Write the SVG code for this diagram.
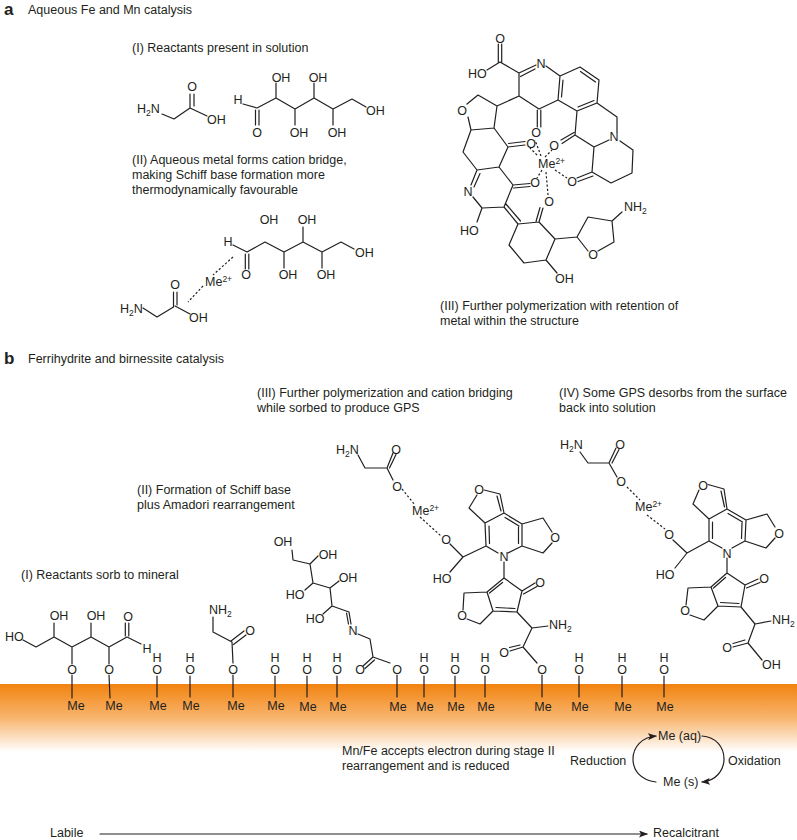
<svg xmlns="http://www.w3.org/2000/svg" width="797" height="840" viewBox="0 0 797 840">
<style>
text{font-family:"Liberation Sans",Arial,sans-serif;font-size:12.5px;fill:#231f20}
.a{text-anchor:middle}
.h{font-weight:bold;font-size:17px}
.s{font-size:8.5px}
.b{fill:none;stroke:#231f20;stroke-width:1.2;stroke-linecap:round;stroke-linejoin:round}
.d{fill:none;stroke:#231f20;stroke-width:1.2;stroke-dasharray:2.2 2}
</style>
<defs>
<linearGradient id="band" x1="0" y1="0" x2="0" y2="1"><stop offset="0" stop-color="#f2830f"/><stop offset="0.5" stop-color="#f8b56f"/><stop offset="1" stop-color="#ffffff"/></linearGradient>
<marker id="ah" markerWidth="9" markerHeight="7" refX="8" refY="3.5" orient="auto" markerUnits="userSpaceOnUse"><path d="M0 0L9 3.5L0 7L2 3.5Z" fill="#231f20"/></marker>
</defs>
<rect id="mineral" x="0" y="684" width="797" height="68" fill="url(#band)"/>

<g id="titles">
<text class="h" x="4" y="15">a</text>
<text x="28" y="14">Aqueous Fe and Mn catalysis</text>
<text x="132" y="52">(I) Reactants present in solution</text>
<text x="132" y="164">(II) Aqueous metal forms cation bridge,</text>
<text x="132" y="179">making Schiff base formation more</text>
<text x="132" y="194">thermodynamically favourable</text>
<text x="440" y="310">(III) Further polymerization with retention of</text>
<text x="440" y="325">metal within the structure</text>
<text class="h" x="4" y="364">b</text>
<text x="28" y="363">Ferrihydrite and birnessite catalysis</text>
<text x="257" y="397">(III) Further polymerization and cation bridging</text>
<text x="257" y="412">while sorbed to produce GPS</text>
<text x="559" y="397">(IV) Some GPS desorbs from the surface</text>
<text x="559" y="412">back into solution</text>
<text x="137" y="494">(II) Formation of Schiff base</text>
<text x="137" y="509">plus Amadori rearrangement</text>
<text x="21" y="579">(I) Reactants sorb to mineral</text>
<text x="342" y="755">Mn/Fe accepts electron during stage II</text>
<text x="342" y="770">rearrangement and is reduced</text>
</g>

<g id="a-glycine-1">
<path class="b" d="M162 114L174 119L190 108V94M194 106V94M190 108L207 116"/>
<text x="137" y="113">H<tspan class="s" dy="3">2</tspan><tspan dy="-3">N</tspan></text>
<text class="a" x="192" y="91">O</text>
<text x="207" y="124">OH</text>
</g>
<g id="a-sugar-1">
<path class="b" d="M243 104L257 108L276 98V83M276 98L295 109V125M295 109L314 98V83M314 98L333 109V125M333 109L352 99L366 107M255.5 110V125M259 110V125"/>
<text class="a" x="238" y="104">H</text>
<text class="a" x="257" y="137">O</text>
<text class="a" x="281" y="82">OH</text>
<text class="a" x="299" y="137">OH</text>
<text class="a" x="318" y="82">OH</text>
<text class="a" x="337" y="137">OH</text>
<text x="366" y="115">OH</text>
</g>
<g id="a-sugar-2">
<path class="b" d="M233 245L247 252L265 242L284 252V268M284 252L303 242V227M303 242L322 252V268M322 252L341 242L354 249M245.300 254V269M248.800 254V269"/>
<text class="a" x="228" y="246">H</text>
<text class="a" x="246" y="279">O</text>
<text class="a" x="269" y="224">OH</text>
<text class="a" x="307" y="224">OH</text>
<text class="a" x="288" y="279">OH</text>
<text class="a" x="326" y="279">OH</text>
<text x="355" y="257">OH</text>
</g>
<g id="a-bridge">
<path class="d" d="M233 257L213 275M203 286L188 302"/>
<text x="205" y="286">Me<tspan class="s" dy="-4">2+</tspan></text>
</g>
<g id="a-glycine-2">
<path class="b" d="M143 308L157 317L173.500 307V292M177 305V292M175 306L190 314"/>
<text x="120" y="313">H<tspan class="s" dy="3">2</tspan><tspan dy="-3">N</tspan></text>
<text class="a" x="175" y="289">O</text>
<text x="189" y="322">OH</text>
</g>

<g id="a-polymer">
<path class="b" d="M487 70L500 62L519 73M498.300 44V62M501.700 44V62M519 73L536 65M520.500 76.500L535 69M519 73V96M546 66L560 76M560 76L580 67L599 80L597 103L577 111L558 100L560 76M563 80L561.500 97M580.500 71.500L595.500 82M578 107L594 100.500M519 96L539 109L558 100M537.300 110V127M540.800 110V127M597 103L617 117V132M609 140L594 147M577 111L575 135L594 147M575 135L562 143.500M574 132.500L561 140M620 141L633 150L632 173L611 183L592 172L594 147M592 172L577 178M593 176L578 181.500M519 96L497 106L478 95L467 104M468 117L471 130L494 128L497 106M471 130L463 152L477 170L499 167L508 147L494 128M508 147L525 145M508.500 143.500L525 141.500M499 167L513 185L530 183.500M513.500 188L530 186.500M477 170L471 185M480 173.500L474 187M473 197L482 208L504 207L513 185M482 208L477 222M504 207L518 224L539 222L543 208M505.500 203.500L520.500 221M536 221.500L540 207.500M518 224L509 245L524 263L546 260L555 239L539 222M555 239L577 237L588 217L612 221L614 242L598 251M588 251L577 237M612 221L622 212M546 260L557 273"/>
<path class="d" d="M541 156L535 140M545 157L552 150M537 155L530 148M555 170L567 178M542 170L537 178M546 172L548 195"/>
<text class="a" x="500" y="43">O</text>
<text x="468" y="78">HO</text>
<text class="a" x="541" y="68">N</text>
<text class="a" x="462" y="115">O</text>
<text class="a" x="536" y="137">O</text>
<text class="a" x="554" y="150">O</text>
<text class="a" x="614" y="141">N</text>
<text class="a" x="572" y="186">O</text>
<text class="a" x="531" y="148">O</text>
<text class="a" x="535" y="187">O</text>
<text class="a" x="549" y="206">O</text>
<text class="a" x="468" y="196">N</text>
<text x="460" y="235">HO</text>
<text class="a" x="593" y="259">O</text>
<text x="538" y="168">Me<tspan class="s" dy="-4">2+</tspan></text>
<text x="624" y="211">NH<tspan class="s" dy="3">2</tspan></text>
<text x="555" y="283">OH</text>
</g>

<g id="b-sugar">
<path class="b" d="M23 640L36 647L54 637V623M54 637L72 647V664M72 647L91 637V623M91 637L109 647V664M109 647L127 637L141 644M125.300 636V623M128.800 636V623M72 675V698M109 675L110 698"/>
<text x="5" y="641">HO</text>
<text class="a" x="59" y="620">OH</text>
<text class="a" x="96" y="620">OH</text>
<text class="a" x="128" y="621">O</text>
<text class="a" x="147" y="653">H</text>
<text class="a" x="72" y="674">O</text>
<text class="a" x="109" y="674">O</text>
</g>
<g id="b-glycine">
<path class="b" d="M213 617V632L232 642L233 663M231 641L244 631M233.500 644.500L246 635M233 675V697"/>
<text x="209" y="614">NH<tspan class="s" dy="3">2</tspan></text>
<text class="a" x="250" y="634.500">O</text>
<text class="a" x="233" y="674">O</text>
</g>
<g id="b-schiff">
<path class="b" d="M292 550L293 560L310 564L318 556M310 564L313 583L305 590M313 583L330 588L339 581M330 588L332 606L323 614M332 606L349 612L351 624M346.500 613L348.500 624M358 634L370 639L373 657L363 666M374.500 660L365 668.500M373 657L390 663M397 675V697"/>
<text class="a" x="283" y="546">OH</text>
<text class="a" x="328" y="558.500">OH</text>
<text class="a" x="295" y="598.500">HO</text>
<text class="a" x="348" y="581.500">OH</text>
<text class="a" x="315" y="622.500">HO</text>
<text class="a" x="353" y="634.500">N</text>
<text class="a" x="360" y="673.500">O</text>
<text class="a" x="397" y="674">O</text>
</g>
<g id="b-gps-sorbed">
<path class="b" d="M358 455L365 468H387L393 453M389.500 468L396 454.500M387 468L393 480M450 544L463 557L450 572M463 557L486 546L485 523L504 513L522 524L522 546L508 553M498 553L486 546M489.500 543.500L489 526M518.500 543.500V527M505 517.500L519 526M485 523L469 508L477 495M484 490L500 494L504 513M497 496L501 511M522 524L543 518L552 532M552 543L543 553L522 546M504 562V578L487 592M504 578L522 591L517 612L493 611L487 592M502.500 582.500L489.500 593M515 608.500L496 607.500M522 591L535 583M523.500 594L537 586.500M487 592L464 593L463 610M467 619L480 624L493 611M517 612L532 628L548 626M532 628L523 647L510 651M520 645L509.500 647.500M523 647L537 663M542 675V697"/>
<path class="d" d="M402 489L415 505M420 517L441 536"/>
<text x="336" y="454">H<tspan class="s" dy="3">2</tspan><tspan dy="-3">N</tspan></text>
<text class="a" x="396" y="453.500">O</text>
<text class="a" x="397" y="490.500">O</text>
<text x="412" y="515">Me<tspan class="s" dy="-4">2+</tspan></text>
<text class="a" x="446" y="543.500">O</text>
<text class="a" x="442" y="583">HO</text>
<text class="a" x="479" y="493.500">O</text>
<text class="a" x="555" y="541.500">O</text>
<text class="a" x="504" y="560.500">N</text>
<text class="a" x="540" y="586.500">O</text>
<text class="a" x="462" y="619.500">O</text>
<text x="549" y="629">NH<tspan class="s" dy="3">2</tspan></text>
<text class="a" x="504" y="656.500">O</text>
<text class="a" x="542" y="674">O</text>
</g>
<g id="b-gps-desorbed">
<path class="b" d="M580 452L588 463H609L616 448M612 463L619 449.500M609 463L617 477M673 540L687 553L675 568M687 553L709 541V519L727 509L746 520L745 541L732 548M722 548L709 541M712.500 538.500V522M741.500 538.500L742 523M728 513.500L742.500 522M709 519L693 504L699 490M708 484.500L724 489L727 509M721 491L724.500 507M746 520L767 514L775 527M775 538L766 548L745 541M727 558V573L711 587M727 573L745 585L741 607L718 606L711 587M725.500 577.500L713.500 588M739 603.500L720.500 602.500M745 585L758 579M746.500 588L760 582.500M711 587L688 588L686 605M690 615L704 620L718 606M741 607L755 624L771 621M755 624L748 643L733 647M745 640L733 643.500M748 643L762 660"/>
<path class="d" d="M627 487L640 500M647 515L665 529"/>
<text x="560" y="449">H<tspan class="s" dy="3">2</tspan><tspan dy="-3">N</tspan></text>
<text class="a" x="620" y="448.500">O</text>
<text class="a" x="621" y="485.500">O</text>
<text x="635" y="511">Me<tspan class="s" dy="-4">2+</tspan></text>
<text class="a" x="669" y="538.500">O</text>
<text class="a" x="665" y="578.500">HO</text>
<text class="a" x="703" y="489.500">O</text>
<text class="a" x="779" y="537.500">O</text>
<text class="a" x="727" y="557.500">N</text>
<text class="a" x="764" y="582.500">O</text>
<text class="a" x="685" y="614.500">O</text>
<text x="772" y="624">NH<tspan class="s" dy="3">2</tspan></text>
<text class="a" x="727" y="651.500">O</text>
<text x="762" y="669">OH</text>
</g>

<g id="surface-sites">
<path class="b" d="M157 676V697M190 676V697M275 676V697M307 676V697M337 676V697M424 676V697M455 676V697M485 676V697M579 676V697M622 676V697M664 676V697"/>
<text class="a"><tspan x="157" y="662">H</tspan><tspan x="157" y="674">O</tspan></text>
<text class="a"><tspan x="190" y="662">H</tspan><tspan x="190" y="674">O</tspan></text>
<text class="a"><tspan x="275" y="662">H</tspan><tspan x="275" y="674">O</tspan></text>
<text class="a"><tspan x="307" y="662">H</tspan><tspan x="307" y="674">O</tspan></text>
<text class="a"><tspan x="337" y="662">H</tspan><tspan x="337" y="674">O</tspan></text>
<text class="a"><tspan x="424" y="662">H</tspan><tspan x="424" y="674">O</tspan></text>
<text class="a"><tspan x="455" y="662">H</tspan><tspan x="455" y="674">O</tspan></text>
<text class="a"><tspan x="485" y="662">H</tspan><tspan x="485" y="674">O</tspan></text>
<text class="a"><tspan x="579" y="662">H</tspan><tspan x="579" y="674">O</tspan></text>
<text class="a"><tspan x="622" y="662">H</tspan><tspan x="622" y="674">O</tspan></text>
<text class="a"><tspan x="664" y="662">H</tspan><tspan x="664" y="674">O</tspan></text>
<text class="a" x="76" y="710">Me</text>
<text class="a" x="114" y="710">Me</text>
<text class="a" x="158" y="710">Me</text>
<text class="a" x="191" y="710">Me</text>
<text class="a" x="236" y="710">Me</text>
<text class="a" x="276" y="710">Me</text>
<text class="a" x="308" y="711">Me</text>
<text class="a" x="338" y="711">Me</text>
<text class="a" x="398" y="711">Me</text>
<text class="a" x="425" y="711">Me</text>
<text class="a" x="456" y="711">Me</text>
<text class="a" x="486" y="711">Me</text>
<text class="a" x="543" y="711">Me</text>
<text class="a" x="580" y="711">Me</text>
<text class="a" x="623" y="711">Me</text>
<text class="a" x="665" y="711">Me</text>
</g>

<g id="redox">
<text x="658" y="740">Me (aq)</text>
<text x="663" y="786">Me (s)</text>
<text x="570" y="765">Reduction</text>
<text x="728" y="765">Oxidation</text>
</g>
<g id="connectors">
<path class="b" marker-end="url(#ah)" d="M656 782C640 780 633 770 633 759C633 747 642 737 656 736"/>
<path class="b" marker-end="url(#ah)" d="M702 736C716 737 724 747 724 759C724 770 716 781 702 782"/>
<path class="b" marker-end="url(#ah)" d="M100 834H647"/>
</g>
<g id="axis">
<text x="50" y="837">Labile</text>
<text x="653" y="837">Recalcitrant</text>
</g>
</svg>
